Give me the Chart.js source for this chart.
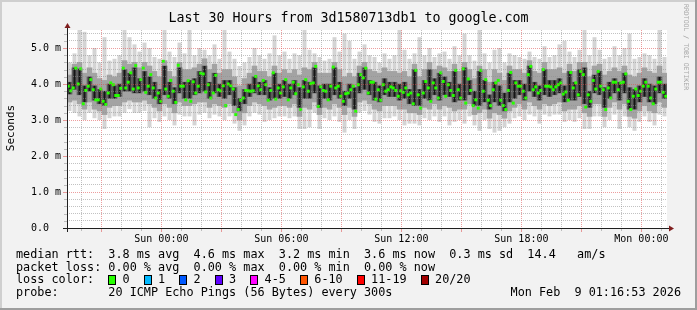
<!DOCTYPE html>
<html><head><meta charset="utf-8">
<script src="https://cdn.jsdelivr.net/npm/chart.js@4.4.1/dist/chart.umd.min.js"></script>
<style>html,body{margin:0;padding:0;background:#f2f2f2;overflow:hidden}</style>
</head><body><canvas id="c" width="697" height="310"></canvas>
<script>
// ---------- texts ----------
const titleText = "Last 30 Hours from 3d1580713db1 to google.com";
const yAxisTitle = "Seconds";
const watermark = "RRDTOOL / TOBI OETIKER";
const legendLine1 = "median rtt:  3.8 ms avg  4.6 ms max  3.2 ms min  3.6 ms now  0.3 ms sd  14.4   am/s";
const legendLine2 = "packet loss: 0.00 % avg  0.00 % max  0.00 % min  0.00 % now";
const legendLine3 = "loss color:";
const legendLine4 = "probe:       20 ICMP Echo Pings (56 Bytes) every 300s";
const dateText = "Mon Feb  9 01:16:53 2026";
const lossLabels = ["0", "1", "2", "3", "4-5", "6-10", "11-19", "20/20"];
const lossColors = ["#26ff00", "#00b8ff", "#0059ff", "#5e00ff", "#ff00ff", "#ff5500", "#ff0000", "#a10000"];

// ---------- axes (hours relative to Sun 00:00) ----------
const startHour = -4.7186;   // Sat 19:16:53
const endHour = 25.2814;     // Mon 01:16:53
const firstSample = -4.5936; // first smoke sample (15 min bins)
const stepHours = 0.25;
const firstMedian = -4.6561; // first median sample (7.5 min)
const medianStep = 0.125;
const xTickHours = [0, 6, 12, 18, 24];
const xTickLabels = ["Sun 00:00", "Sun 06:00", "Sun 12:00", "Sun 18:00", "Mon 00:00"];
const yTickValues = [0, 1, 2, 3, 4, 5];
const yTickLabels = ["0.0  ", "1.0 m", "2.0 m", "3.0 m", "4.0 m", "5.0 m"];
const yMax = 5.5;

// ---------- series (milliseconds) ----------
const median = [
3.94,3.81,3.89,4.44,4.00,4.42,3.45,3.82,3.94,4.12,3.84,3.56,3.56,3.86,3.52,3.43,3.75,4.03,3.98,3.68,3.68,3.88,4.44,3.89,
4.05,4.31,3.86,4.51,3.89,4.12,4.44,3.77,3.94,4.26,3.89,3.61,3.75,3.52,4.63,3.86,3.66,4.10,3.80,3.49,4.52,3.94,3.94,3.56,
4.09,3.52,4.06,3.75,3.94,4.30,4.28,3.78,3.98,3.61,3.75,4.24,3.84,3.81,3.95,3.40,4.00,3.95,3.86,3.15,3.29,3.55,3.61,3.82,
3.81,3.80,3.81,4.21,3.95,3.84,4.10,3.98,3.55,3.82,4.31,3.58,3.89,3.75,3.92,4.12,3.56,3.89,4.05,3.73,3.98,3.29,3.92,4.12,
3.80,4.01,4.03,4.49,3.38,3.92,3.82,3.80,3.56,3.94,4.47,3.89,3.94,3.66,3.52,3.73,3.75,3.84,3.94,3.24,3.98,4.26,4.17,4.44,
3.75,4.05,4.05,3.58,3.84,3.55,3.98,3.80,3.84,3.92,3.89,3.82,3.66,3.81,3.77,3.89,3.70,3.75,3.45,4.38,3.70,3.33,3.75,4.07,
3.89,3.52,4.03,3.89,3.61,4.31,4.07,3.66,3.98,3.82,3.68,4.38,3.84,3.61,4.42,3.47,4.14,3.82,3.40,3.56,3.33,4.38,3.80,4.12,
3.55,3.40,3.84,4.03,4.10,3.55,3.40,3.29,3.82,4.32,3.47,4.03,3.94,3.94,3.80,3.61,4.26,4.49,3.84,3.92,3.75,3.82,4.40,3.94,
3.94,3.92,3.84,3.92,3.98,4.03,3.72,3.78,3.55,4.32,3.89,4.03,3.70,4.35,4.26,3.36,3.70,3.52,4.10,3.86,4.35,3.94,3.84,3.29,
3.89,3.61,4.05,4.05,3.84,4.03,4.05,4.28,3.52,3.29,3.66,3.86,3.68,3.80,3.94,4.05,3.94,3.61,3.45,3.86,4.05,4.05,3.77,3.66];
const coreLo = [3.72,3.85,3.7,3.5,3.8,3.55,3.45,3.4,3.6,3.6,3.65,3.8,3.8,3.75,3.75,3.8,3.7,3.6,3.45,3.7,3.6,3.45,3.75,3.6,
3.6,3.7,3.75,3.8,3.6,3.75,3.65,3.6,3.7,3.4,3.25,3.45,3.65,3.75,3.7,3.7,3.55,3.6,3.6,3.65,3.6,3.7,3.35,3.6,
3.6,3.75,3.35,3.6,3.55,3.7,3.6,3.4,3.6,3.3,3.75,3.85,3.7,3.55,3.5,3.7,3.65,3.65,3.55,3.6,3.45,3.4,3.4,3.6,
3.55,3.7,3.55,3.7,3.65,3.5,3.55,3.55,3.7,3.4,3.4,3.5,3.3,3.5,3.4,3.25,3.5,3.6,3.7,3.55,3.8,3.65,3.55,3.7,
3.65,3.7,3.75,3.5,3.55,3.55,3.65,3.45,3.35,3.75,3.7,3.35,3.6,3.75,3.55,3.75,3.3,3.3,3.5,3.65,3.5,3.45,3.75,3.6];
const coreHi = [4.05,4.45,4.42,3.95,4.2,3.95,3.85,3.8,4.0,3.95,4.0,4.4,4.3,4.45,4.15,4.35,4.2,4.05,3.85,4.5,4.05,3.9,4.45,4.05,
4.1,4.15,4.35,4.5,4.05,4.3,4.0,4.1,4.1,3.9,3.6,3.85,4.0,4.2,4.05,4.1,3.9,4.3,4.0,4.1,4.0,4.1,3.9,4.1,
4.05,4.45,3.95,4.0,4.0,4.45,4.05,3.8,4.0,3.9,4.3,4.45,4.1,4.05,3.95,4.15,4.05,4.05,4.0,4.05,3.85,4.4,3.85,4.1,
4.4,4.15,4.3,4.2,4.05,4.35,4.0,4.45,4.1,3.8,4.35,4.1,3.7,4.05,3.95,3.75,4.3,4.1,4.1,4.0,4.5,4.05,3.95,4.4,
4.1,4.1,4.15,3.95,4.35,4.05,4.4,4.45,3.8,4.25,4.35,3.9,4.05,4.15,4.05,4.3,3.9,3.85,3.95,4.15,4.0,3.95,4.2,4.0];
const midLo = [3.5,3.55,3.45,3.3,3.5,3.3,3.25,3.15,3.35,3.4,3.4,3.5,3.55,3.5,3.5,3.55,3.45,3.35,3.25,3.45,3.35,3.2,3.5,3.4,
3.4,3.45,3.5,3.5,3.35,3.45,3.4,3.35,3.45,3.2,3.0,3.2,3.4,3.5,3.45,3.4,3.3,3.35,3.4,3.4,3.35,3.45,3.1,3.35,
3.3,3.5,3.15,3.35,3.3,3.45,3.35,3.15,3.35,3.1,3.5,3.55,3.45,3.3,3.25,3.4,3.4,3.4,3.3,3.3,3.2,3.2,3.15,3.35,
3.3,3.45,3.3,3.4,3.35,3.25,3.3,3.3,3.45,3.15,3.2,3.3,3.05,3.2,3.15,3.05,3.25,3.35,3.45,3.3,3.5,3.4,3.3,3.45,
3.4,3.45,3.5,3.25,3.3,3.3,3.4,3.2,3.1,3.45,3.45,3.1,3.35,3.5,3.3,3.45,3.1,3.05,3.25,3.4,3.25,3.2,3.5,3.35];
const midHi = [4.25,4.55,4.6,4.3,4.45,4.3,4.15,4.1,4.25,4.2,4.3,4.65,4.55,4.6,4.45,4.6,4.5,4.35,4.2,4.65,4.35,4.2,4.6,4.4,
4.4,4.45,4.55,4.7,4.4,4.55,4.3,4.4,4.4,4.2,3.95,4.15,4.3,4.5,4.35,4.35,4.2,4.5,4.3,4.4,4.3,4.4,4.25,4.45,
4.4,4.6,4.3,4.3,4.3,4.6,4.4,4.2,4.3,4.2,4.5,4.6,4.4,4.35,4.3,4.45,4.35,4.35,4.3,4.35,4.2,4.55,4.2,4.4,
4.6,4.4,4.5,4.45,4.35,4.55,4.35,4.6,4.4,4.15,4.5,4.4,4.05,4.4,4.3,4.1,4.5,4.4,4.4,4.3,4.65,4.35,4.3,4.6,
4.4,4.4,4.45,4.3,4.55,4.35,4.6,4.6,4.2,4.5,4.55,4.25,4.35,4.45,4.35,4.5,4.25,4.2,4.3,4.45,4.35,4.3,4.5,4.3];
const smokeMin = [3.25,3.2,3.1,3.0,3.2,3.05,3.0,2.75,3.05,3.1,3.1,3.2,3.3,3.2,3.2,3.25,2.8,3.05,2.95,3.1,3.0,2.85,3.15,3.1,
3.1,2.85,3.15,3.2,3.05,3.15,3.1,3.0,3.1,2.9,2.7,2.85,3.1,3.2,3.15,2.95,3.0,3.05,3.1,3.1,3.05,3.1,2.75,2.75,
2.8,3.2,2.75,3.05,3.0,3.1,2.95,2.65,3.0,2.75,3.2,3.25,3.15,2.95,2.9,3.05,3.05,3.1,3.0,2.85,2.9,2.9,2.85,3.05,
3.0,3.1,2.95,3.1,2.85,2.95,3.0,2.9,3.1,2.85,2.7,3.0,2.75,2.65,2.7,2.8,2.9,3.05,3.1,3.0,3.15,3.1,2.9,3.15,
3.1,3.15,3.15,2.95,3.0,2.95,3.05,2.75,2.75,3.1,3.1,2.8,3.0,3.15,2.75,3.1,2.8,2.7,2.95,3.1,2.95,2.85,3.15,3.1];
const smokeMax = [4.6,4.85,5.5,5.45,4.8,5.0,4.6,5.3,4.65,4.7,4.8,5.5,5.3,5.1,4.9,5.15,5.0,4.75,4.7,5.5,4.9,4.75,5.15,4.85,
5.5,4.8,5.0,4.95,4.8,5.1,4.7,5.5,4.9,4.7,4.5,4.6,4.75,5.0,4.8,4.7,4.85,5.35,4.8,4.9,4.7,4.85,4.8,5.5,
4.95,4.85,4.75,4.65,4.7,5.3,4.9,5.4,5.2,4.7,4.9,5.1,4.8,4.75,4.6,4.85,4.7,4.8,5.5,4.95,4.7,4.85,5.3,4.8,
5.0,4.75,4.85,4.9,4.7,5.05,4.8,5.4,4.8,4.65,5.5,4.85,4.6,4.95,5.0,4.6,4.85,4.8,4.75,4.7,4.9,4.75,4.7,5.05,
4.75,4.8,5.1,5.2,4.9,4.75,4.95,5.5,4.8,5.3,4.95,4.7,4.75,5.05,4.8,5.0,5.4,4.7,4.75,4.85,4.8,4.7,5.5,4.75];

// ---------- build ----------
const N = Math.min(coreLo.length, coreHi.length, midLo.length, midHi.length, smokeMin.length, smokeMax.length);
const times = [];
for (let i = 0; i < N; i++) times.push(firstSample + i * stepHours);
const band = (lo, hi) => times.map((t, i) => ({x: t, y: [lo[i], hi[i]]}));
const medianPoints = median.map((v, j) => ({x: firstMedian + j * medianStep, y: v}));

const MONO = '"DejaVu Sans Mono", monospace';
const GRID_MINOR = 'rgba(143,143,143,0.55)';
const GRID_MAJOR = 'rgba(222,79,79,0.55)';
const near = (a, b) => Math.abs(a - b) < 1e-6;
const isInt = v => near(v, Math.round(v));

const rrdPlugin = {
  id: 'rrd',
  beforeDraw(chart) {
    const {ctx, chartArea: a} = chart;
    ctx.save();
    ctx.fillStyle = '#f2f2f2';
    ctx.fillRect(0, 0, 697, 310);
    ctx.fillStyle = '#cfcfcf';
    ctx.fillRect(0, 0, 697, 2);
    ctx.fillRect(0, 0, 2, 310);
    ctx.fillStyle = '#9e9e9e';
    ctx.fillRect(0, 308, 697, 2);
    ctx.fillRect(695, 0, 2, 310);
    ctx.fillStyle = '#ffffff';
    ctx.fillRect(a.left, a.top, a.right - a.left, a.bottom - a.top);
    ctx.restore();
  },
  afterDraw(chart) {
    const {ctx, chartArea: a, scales} = chart;
    const xs = scales.x, ys = scales.y;
    ctx.save();
    ctx.lineWidth = 1;
    xs.ticks.forEach(t => {
      const px = Math.round(xs.getPixelForValue(t.value)) + 0.5;
      const major = isInt(t.value / 3);
      ctx.strokeStyle = major ? GRID_MAJOR : GRID_MINOR;
      ctx.beginPath(); ctx.moveTo(px, a.bottom + 1); ctx.lineTo(px, a.bottom + (major ? 4 : 3)); ctx.stroke();
    });
    ys.ticks.forEach(t => {
      const py = Math.round(ys.getPixelForValue(t.value)) + 0.5;
      const major = isInt(t.value);
      ctx.strokeStyle = major ? GRID_MAJOR : GRID_MINOR;
      ctx.beginPath(); ctx.moveTo(a.left - (major ? 4 : 3), py); ctx.lineTo(a.left, py); ctx.stroke();
    });
    ctx.strokeStyle = '#1f1f1f';
    const ox = Math.round(a.left) + 0.5, oy = Math.round(a.bottom) + 0.5;
    ctx.beginPath(); ctx.moveTo(a.left - 4, oy); ctx.lineTo(a.right + 4, oy); ctx.stroke();
    ctx.beginPath(); ctx.moveTo(ox, a.bottom + 4); ctx.lineTo(ox, a.top - 4); ctx.stroke();
    ctx.fillStyle = '#801f1f';
    ctx.beginPath(); ctx.moveTo(a.right + 2, oy - 3); ctx.lineTo(a.right + 7, oy); ctx.lineTo(a.right + 2, oy + 3); ctx.closePath(); ctx.fill();
    ctx.beginPath(); ctx.moveTo(ox - 3, a.top - 2); ctx.lineTo(ox, a.top - 7); ctx.lineTo(ox + 3, a.top - 2); ctx.closePath(); ctx.fill();

    ctx.fillStyle = '#000';
    ctx.textBaseline = 'middle';
    ctx.textAlign = 'center';
    ctx.font = '13.3px ' + MONO;
    ctx.fillText(titleText, 348.5, 19);
    ctx.save();
    ctx.translate(11, 128);
    ctx.rotate(-Math.PI / 2);
    ctx.font = '11px ' + MONO;
    ctx.fillText(yAxisTitle, 0, 0);
    ctx.restore();
    ctx.save();
    ctx.translate(686, 4);
    ctx.rotate(Math.PI / 2);
    ctx.textAlign = 'left';
    ctx.fillStyle = '#a6a6a6';
    ctx.font = '6.5px ' + MONO;
    ctx.fillText(watermark, 0, 0);
    ctx.restore();
    ctx.textAlign = 'left';
    ctx.font = '11.8px ' + MONO;
    const cw = ctx.measureText('M').width;
    const lx = 16;
    const rows = [255, 267.5, 280, 292.5];
    ctx.fillText(legendLine1, lx, rows[0]);
    ctx.fillText(legendLine2, lx, rows[1]);
    ctx.fillText(legendLine3, lx, rows[2]);
    let col = 13;
    lossLabels.forEach((lab, i) => {
      const bx = Math.round(lx + col * cw);
      ctx.fillStyle = lossColors[i];
      ctx.fillRect(bx, Math.round(rows[2] - 5), 8, 10);
      ctx.strokeStyle = '#000';
      ctx.strokeRect(bx + 0.5, Math.round(rows[2] - 5) + 0.5, 7, 9);
      ctx.fillStyle = '#000';
      ctx.fillText(lab, lx + (col + 2) * cw, rows[2]);
      col += 2 + lab.length + 2;
    });
    ctx.fillText(legendLine4, lx, rows[3]);
    ctx.textAlign = 'right';
    ctx.fillText(dateText, 681, rows[3]);
    ctx.restore();
  }
};

const barCommon = {type: 'bar', grouped: false, barPercentage: 1, categoryPercentage: 1, borderWidth: 0, borderSkipped: false};

new Chart(document.getElementById('c'), {
  type: 'bar',
  data: {
    datasets: [
      Object.assign({}, barCommon, {data: band(smokeMin, smokeMax), backgroundColor: '#d4d4d4', barPercentage: 0.8, order: 5}),
      Object.assign({}, barCommon, {data: band(midLo, midHi), backgroundColor: '#a3a3a3', order: 4}),
      Object.assign({}, barCommon, {data: band(coreLo, coreHi), backgroundColor: '#5c5c5c', order: 3}),
      Object.assign({}, barCommon, {data: band(coreLo, coreHi), backgroundColor: '#151515', barPercentage: 0.4, order: 2}),
      {type: 'line', data: medianPoints, showLine: false, pointStyle: 'rect',
       pointRadius: 2.1, pointBackgroundColor: '#26ff00', pointBorderWidth: 0, order: 1}
    ]
  },
  options: {
    responsive: false, animation: false, devicePixelRatio: 1,
    layout: {padding: {left: 0, right: 30, top: 30, bottom: 0}},
    plugins: {legend: {display: false}, tooltip: {enabled: false}, title: {display: false}},
    scales: {
      x: {
        type: 'linear', min: startHour, max: endHour, offset: false,
        afterBuildTicks(s) {
          const t = [];
          for (let h = Math.ceil(startHour); h <= Math.floor(endHour); h++) t.push({value: h});
          s.ticks = t;
        },
        afterFit(s) { s.height = 82; },
        grid: {z: 1, offset: false, drawTicks: false, lineWidth: 1,
               color: c => (c.tick && isInt(c.tick.value / 3)) ? GRID_MAJOR : GRID_MINOR},
        border: {display: false, dash: [1, 1]},
        ticks: {autoSkip: false, maxRotation: 0, padding: 5, color: '#000',
                font: {family: MONO, size: 10},
                callback: v => { const k = xTickHours.findIndex(h => near(h, v)); return k >= 0 ? xTickLabels[k] : ''; }}
      },
      y: {
        type: 'linear', min: 0, max: yMax,
        afterFit(s) { s.width = 67; },
        grid: {z: 1, drawTicks: false, lineWidth: 1,
               color: c => (c.tick && isInt(c.tick.value)) ? GRID_MAJOR : GRID_MINOR},
        border: {display: false, dash: [1, 1]},
        ticks: {stepSize: 0.2, includeBounds: false, autoSkip: false, padding: 6, color: '#000',
                font: {family: MONO, size: 10},
                callback: v => { const k = yTickValues.findIndex(h => near(h, v)); return k >= 0 ? yTickLabels[k] : ''; }}
      }
    }
  },
  plugins: [rrdPlugin]
});
</script>
</body></html>
